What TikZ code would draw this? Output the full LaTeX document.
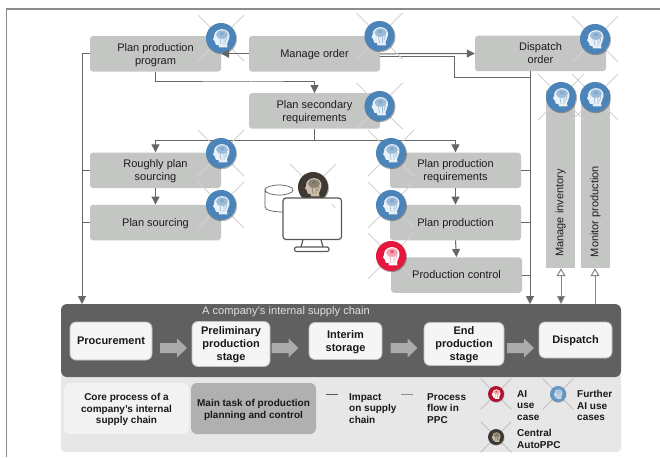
\documentclass[tikz,border=0pt]{standalone}
\usepackage{fontspec}
\setmainfont{Liberation Sans}
\usetikzlibrary{arrows.meta,calc}
\definecolor{boxgray}{HTML}{C4C6C4}
\definecolor{panel}{HTML}{606060}
\definecolor{legendbg}{HTML}{E7E7E7}
\definecolor{linegray}{HTML}{666666}
\definecolor{crossgray}{HTML}{D2D2D2}
\definecolor{crossleg}{HTML}{C0C0C0}
\definecolor{aiblue}{HTML}{4A84B8}
\definecolor{aired}{HTML}{E5173F}
\definecolor{airedleg}{HTML}{B3122F}
\definecolor{darkdisc}{HTML}{3D3832}
\definecolor{darkhead}{HTML}{CBBFAC}
\definecolor{darkbrain}{HTML}{8F8270}
\definecolor{txt}{HTML}{1C1C1C}
\tikzset{
  x=1pt,y=-1pt,
  taskbox/.style={draw=none,fill=boxgray,rounded corners=3pt,inner sep=0pt,minimum height=35.5pt,align=center,text depth=0pt,font=\fontsize{11}{13}\selectfont,text=txt},
  vtaskbox/.style={draw=none,fill=boxgray,inner sep=0pt,minimum width=29pt,minimum height=178pt},
  vlabel/.style={rotate=90,font=\fontsize{11}{13}\selectfont,text=txt,inner sep=0pt},
  stage/.style={draw=black!25,line width=.8pt,fill=white!96!black,rounded corners=6pt,inner sep=0pt,align=center,text depth=0pt,font=\bfseries\fontsize{11}{13}\selectfont,text=black!90},
  flow/.style={draw=linegray,line width=1pt,-{Triangle[length=8pt,width=8pt,fill=linegray]}},
  plainflow/.style={draw=linegray,line width=1pt},
  blockarrow/.style={fill=black!33,draw=none},
  legendtxt/.style={font=\bfseries\fontsize{10}{11.6}\selectfont,align=left,inner sep=0pt,anchor=west,text=black!90},
  legendbox/.style={rounded corners=6pt,inner sep=0pt,align=center,text depth=0pt,font=\bfseries\fontsize{10}{11.8}\selectfont,text=black!90}
}
\newcommand{\crossc}{crossgray}
% #1 x, #2 y, #3 scale, #4 disc colour, #5 head colour, #6 brain colour, #7 cross half-size
\newcommand{\headicon}[7]{%
  \begin{scope}[shift={(#1,#2)},scale=#3]
    \draw[\crossc,line width=1pt] (-#7,-#7) -- (#7,#7) (#7,-#7) -- (-#7,#7);
    \fill[black,opacity=.3] (.6,.8) circle[radius=15.4];
    \fill[#4] (0,0) circle[radius=15];
    \begin{scope}[yscale=.85]
    \fill[#5] (-2,11) -- (-2.5,8) -- (-5,8) .. controls (-6,7.5) and (-6,6) .. (-6,5)
      .. controls (-7,4.6) and (-7,4) .. (-6.5,3.5) -- (-8,1.5) .. controls (-8,1) and (-7,.5) .. (-7,-1)
      .. controls (-7.5,-7) and (-3,-10.5) .. (1,-10.5)
      .. controls (6,-10.5) and (9,-6) .. (8.5,-1) .. controls (8.3,3) and (6,5) .. (6,7) -- (6.5,11) -- cycle;
    \fill[#6] (1,-4) ellipse[x radius=6,y radius=5];
    \fill[#4!70!white] (1,-5) circle[radius=2];
    \draw[#6,line width=.7pt] (-1,0) -- (0,8) (3,0) -- (3,8) (6,-1) -- (4.5,5);
    \end{scope}
  \end{scope}}
% block arrow: #1 left x, #2 centre y, length 27
\newcommand{\blockarr}[2]{\fill[blockarrow] (#1,#2-5) -- (#1+17,#2-5) -- (#1+17,#2-9.5) -- (#1+27,#2) -- (#1+17,#2+9.5) -- (#1+17,#2+5) -- (#1,#2+5) -- cycle;}
\begin{document}
\begin{tikzpicture}[x=1pt,y=-1pt]
\useasboundingbox (0,0) rectangle (660,457);
\fill[white] (0,0) rectangle (660,457);
\draw[black!45,line width=1.2pt] (6.5,457) -- (6.5,9) -- (660,9);

% task boxes
\node[taskbox,minimum width=131pt] (ppp) at (155.5,53.8) {Plan production\\program};
\node[taskbox,minimum width=131pt] (mo) at (314.5,53.8) {Manage order};
\node[taskbox,minimum width=131pt] (dis) at (540.5,53.5) {Dispatch\\order};
\node[taskbox,minimum width=131pt] (psr) at (314.5,111) {Plan secondary\\requirements};
\node[taskbox,minimum width=131pt] (rps) at (155.5,170.3) {Roughly plan\\sourcing};
\node[taskbox,minimum width=131pt] (pso) at (155.5,222.5) {Plan sourcing};
\node[taskbox,minimum width=131pt] (ppr) at (455.5,170.3) {Plan production\\requirements};
\node[taskbox,minimum width=131pt] (ppn) at (455.5,222.5) {Plan production};
\node[taskbox,minimum width=131pt] (pc) at (456.5,275) {Production control};
\node[vtaskbox] (inv) at (560.5,179) {};
\node[vtaskbox] (mon) at (595.5,179) {};
\node[vlabel] (invl) at (560.5,213) {Manage inventory};
\node[vlabel] (monl) at (595.5,211.5) {Monitor production};

% panels
\fill[legendbg,rounded corners=4pt] (61,372) rectangle (621,452);
\node[draw=none,fill=panel,rounded corners=6pt,minimum width=560pt,minimum height=73pt,inner sep=0pt] (chain) at (341,340.5) {};
\node[text=black!12,font=\fontsize{11.1}{13}\selectfont,inner sep=0pt,anchor=west] (chaint) at (202,312) {A company’s internal supply chain};

% stage boxes
\node[stage,minimum width=82pt,minimum height=38pt] (proc) at (111,341) {Procurement};
\node[stage,minimum width=78pt,minimum height=45pt] (prel) at (231,344) {Preliminary\\production\\stage};
\node[stage,minimum width=73pt,minimum height=37pt] (inter) at (345.5,341) {Interim\\storage};
\node[stage,minimum width=80pt,minimum height=43pt] (endp) at (464,344) {End\\production\\stage};
\node[stage,minimum width=73pt,minimum height=36pt] (disp) at (575.5,340) {Dispatch};
\blockarr{160}{348}
\blockarr{271.5}{348}
\blockarr{390.5}{348}
\blockarr{507}{348}

% bus coordinates
\coordinate (lbus) at (82,304);
\coordinate (rbus) at (530,304);
\coordinate (invb) at (561,304);
\coordinate (monb) at (595,304);
\coordinate (elbow) at (454,78);

% connectors
\draw[flow] (ppp.south) |- (251,82) -| (psr.north);
\draw[plainflow] (psr.south) -- ++(0,11.5) coordinate (split);
\draw[flow] (split) -| (rps.north);
\draw[flow] (split) -| (ppr.north);
\draw[flow] (rps.south) -- (pso.north);
\draw[flow] (ppr.south) -- (ppn.north);
\draw[flow] (ppn.south) -- (pc.north);
\draw[flow] (ppp.west) -| (lbus);
\draw[plainflow] (rps.west) -- (rps.west -| lbus);
\draw[plainflow] (pso.west) -- (pso.west -| lbus);
\draw[flow] (dis.south -| rbus) -- (rbus);
\draw[plainflow] (ppr.east) -- (ppr.east -| rbus);
\draw[plainflow] (ppn.east) -- (ppn.east -| rbus);
\draw[plainflow] (pc.east) -- (pc.east -| rbus);
\draw[flow] (mo.east) -- (dis.west);
\draw[plainflow] (380,56.5) -| (elbow) -- (elbow -| rbus);
\draw[draw=linegray!80,line width=1pt,{Triangle[open,length=8pt,width=9pt,fill=white]}-{Triangle[length=8pt,width=8pt,fill=linegray]}] (invb |- inv.south) -- (invb);
\draw[draw=linegray!80,line width=1pt,{Triangle[open,length=8pt,width=9pt,fill=white]}-] (monb |- mon.south) -- (monb);

% computer and data store
\headicon{313}{187}{1}{darkdisc}{darkhead}{darkbrain}{23}
\draw[black!65,line width=.7pt,fill=white] (265,190) arc[start angle=180,end angle=360,x radius=14,y radius=5] arc[start angle=0,end angle=180,x radius=14,y radius=5] -- (265,207) .. controls (265,210) and (273,212) .. (283,212);
\draw[black!65,line width=1.2pt,fill=white,rounded corners=3pt] (283,198) rectangle (341.5,239.5);
\draw[crossgray,line width=1pt] (332,204) -- (335,208);
\draw[black!65,line width=1.2pt] (303,239.5) -- (301,247) (321,239.5) -- (323,247);
\draw[black!65,line width=1.2pt,fill=white,rounded corners=2pt] (294.5,247) rectangle (329,251.5);

% AI icons
\headicon{221}{38}{1}{aiblue}{white!88!aiblue}{aiblue!55!white}{23}
\headicon{379.5}{36}{1}{aiblue}{white!88!aiblue}{aiblue!55!white}{23}
\headicon{595}{39}{1}{aiblue}{white!88!aiblue}{aiblue!55!white}{23}
\headicon{379.5}{106}{1}{aiblue}{white!88!aiblue}{aiblue!55!white}{23}
\headicon{221}{153}{1}{aiblue}{white!88!aiblue}{aiblue!55!white}{23}
\headicon{221}{205}{1}{aiblue}{white!88!aiblue}{aiblue!55!white}{23}
\headicon{391}{153}{1}{aiblue}{white!88!aiblue}{aiblue!55!white}{23}
\headicon{391}{205}{1}{aiblue}{white!88!aiblue}{aiblue!55!white}{23}
\headicon{391}{256}{1}{aired}{white}{aired!40!white}{23}
\headicon{561}{97}{1}{aiblue}{white!88!aiblue}{aiblue!55!white}{23}
\headicon{595}{97}{1}{aiblue}{white!88!aiblue}{aiblue!55!white}{23}

\draw[flow] (mo.west) -- (ppp.east);

% legend
\node[legendbox,fill=black!5,minimum width=125pt,minimum height=51pt] (lcore) at (126.5,408.5) {Core process of a\\company’s internal\\supply chain};
\node[legendbox,fill=black!31,minimum width=125pt,minimum height=51pt] (lmain) at (253.5,408.5) {Main task of production\\planning and control};
\coordinate (d1a) at (326,394); \coordinate (d1b) at (338,394);
\coordinate (d2a) at (401,394); \coordinate (d2b) at (413,394);
\draw[black!65,line width=1pt] (d1a) -- (d1b);
\draw[black!45,line width=1pt] (d2a) -- (d2b);
\node[legendtxt] (limp) at (349,408.5) {Impact\\on supply\\chain};
\node[legendtxt] (lpro) at (427,408.5) {Process\\flow in\\PPC};
\renewcommand{\crossc}{crossleg}
\headicon{496}{394}{.53}{airedleg}{white}{red!35!white}{29}
\headicon{558}{394}{.53}{aiblue!85!white}{white!70!aiblue}{aiblue!45!white}{29}
\headicon{496}{437}{.53}{darkdisc}{darkhead}{darkbrain}{29}
\node[legendtxt] (lai) at (517,405.5) {AI\\use\\case};
\node[legendtxt] (lfur) at (577,405.5) {Further\\AI use\\cases};
\node[legendtxt] (lcen) at (517,439) {Central\\AutoPPC};
\end{tikzpicture}
\end{document}
